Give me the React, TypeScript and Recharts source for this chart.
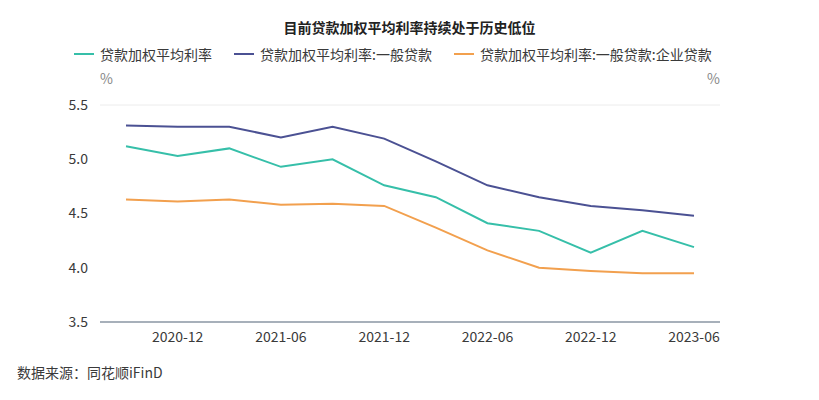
import React from "react";
import { LineChart, Line, XAxis, YAxis, CartesianGrid } from "recharts";

// quarterly, 2020-09 .. 2023-06
const quarters: string[] = [
  "2020-09", "2020-12", "2021-03", "2021-06", "2021-09", "2021-12",
  "2022-03", "2022-06", "2022-09", "2022-12", "2023-03", "2023-06",
];
const avgRate: number[] = [5.12, 5.03, 5.1, 4.93, 5.0, 4.76, 4.65, 4.41, 4.34, 4.14, 4.34, 4.19];
const generalRate: number[] = [5.31, 5.3, 5.3, 5.2, 5.3, 5.19, 4.98, 4.76, 4.65, 4.57, 4.53, 4.48];
const enterpriseRate: number[] = [4.63, 4.61, 4.63, 4.58, 4.59, 4.57, 4.37, 4.16, 4.0, 3.97, 3.95, 3.95];
const xTicks: string[] = ["2020-12", "2021-06", "2021-12", "2022-06", "2022-12", "2023-06"];
const yTicks: number[] = [3.5, 4.0, 4.5, 5.0, 5.5];

const seriesNames = [
  "贷款加权平均利率",
  "贷款加权平均利率:一般贷款",
  "贷款加权平均利率:一般贷款:企业贷款",
];
const colors = ["#36bfa9", "#4b5193", "#f2a04e"];

const data = quarters.map((q, i) => ({
  date: q,
  avg: avgRate[i],
  general: generalRate[i],
  enterprise: enterpriseRate[i],
}));

const FONT = '"Noto Sans CJK SC", "Noto Sans", sans-serif';
const tickStyle = { fill: "#3a3a3a", fontSize: 14, fontFamily: FONT };

const App: React.FC = () => {
  return (
    <div
      style={{
        position: "absolute",
        left: 0,
        top: 0,
        width: 819,
        height: 400,
        background: "#fff",
        fontFamily: FONT,
        color: "#3a3a3a",
      }}
    >
      <div
        style={{
          position: "absolute",
          top: 17,
          width: 819,
          textAlign: "center",
          fontSize: 14,
          fontWeight: "bold",
          lineHeight: "20px",
          color: "#222",
        }}
      >
        目前贷款加权平均利率持续处于历史低位
      </div>

      {/* legend */}
      <div
        style={{
          position: "absolute",
          top: 44,
          left: 74,
          display: "flex",
          fontSize: 14,
          lineHeight: "20px",
        }}
      >
        {seriesNames.map((n, i) => (
          <div key={n} style={{ display: "flex", alignItems: "center", marginRight: 22 }}>
            <span
              style={{
                display: "inline-block",
                width: 20,
                height: 2,
                background: colors[i],
                marginRight: 6,
              }}
            />
            <span>{n}</span>
          </div>
        ))}
      </div>

      <div style={{ position: "absolute", top: 68, left: 100, fontSize: 14, color: "#888" }}>%</div>
      <div style={{ position: "absolute", top: 68, left: 707, fontSize: 14, color: "#888" }}>%</div>

      <div style={{ position: "absolute", top: 0, left: 0 }}>
        <LineChart
          width={819}
          height={400}
          data={data}
          margin={{ top: 105, right: 39, left: 40, bottom: 48 }}
        >
          <CartesianGrid vertical={false} stroke="#ececec" />
          <XAxis
            dataKey="date"
            ticks={xTicks}
            interval={0}
            height={30}
            padding={{ left: 26, right: 26 }}
            tickLine={false}
            axisLine={{ stroke: "#8c99a6", strokeWidth: 1.5 }}
            tick={tickStyle}
            tickMargin={4}
          />
          <YAxis
            yAxisId="left"
            width={60}
            domain={[3.5, 5.5]}
            ticks={yTicks}
            tickFormatter={(v: number) => v.toFixed(1)}
            axisLine={false}
            tickLine={false}
            tickMargin={6}
            tick={tickStyle}
          />
          <YAxis
            yAxisId="right"
            orientation="right"
            width={60}
            domain={[3.5, 5.5]}
            ticks={yTicks}
            tickFormatter={(v: number) => v.toFixed(1)}
            axisLine={false}
            tickLine={false}
            tickMargin={4}
            tick={tickStyle}
          />
          <Line
            yAxisId="left"
            type="linear"
            dataKey="avg"
            stroke={colors[0]}
            strokeWidth={2}
            dot={false}
            isAnimationActive={false}
          />
          <Line
            yAxisId="left"
            type="linear"
            dataKey="general"
            stroke={colors[1]}
            strokeWidth={2}
            dot={false}
            isAnimationActive={false}
          />
          <Line
            yAxisId="left"
            type="linear"
            dataKey="enterprise"
            stroke={colors[2]}
            strokeWidth={2}
            dot={false}
            isAnimationActive={false}
          />
        </LineChart>
      </div>

      <div style={{ position: "absolute", top: 362, left: 17, fontSize: 14 }}>数据来源：同花顺iFinD</div>
    </div>
  );
};

export default App;
